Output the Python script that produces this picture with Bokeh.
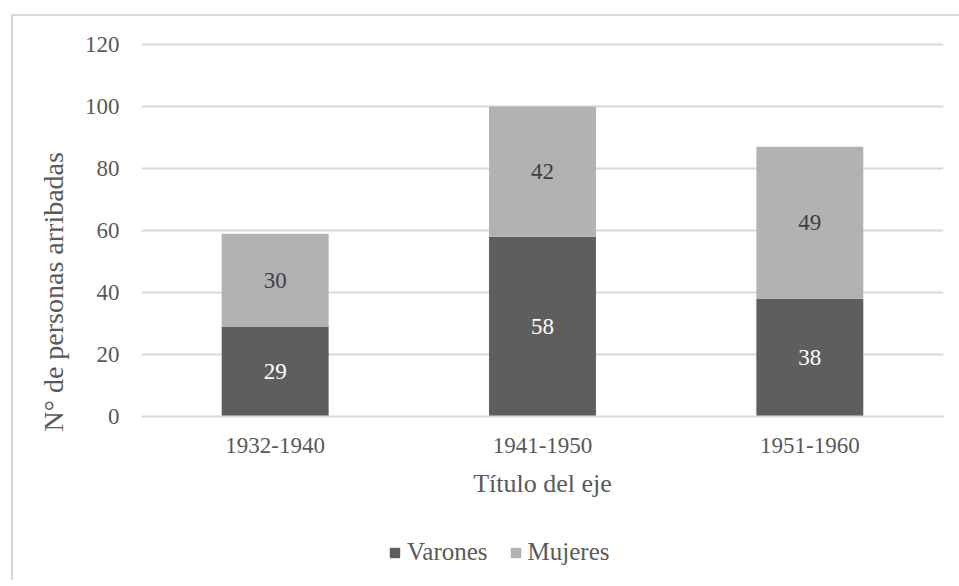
from bokeh.plotting import figure
from bokeh.models import ColumnDataSource, FactorRange, Range1d, Legend, LegendItem, LabelSet, FixedTicker, Title
from bokeh.layouts import column
from bokeh.embed import file_html
from bokeh.resources import INLINE

categories = ["1932-1940", "1941-1950", "1951-1960"]
varones = [29, 58, 38]
mujeres = [30, 42, 49]
series_names = ["Varones", "Mujeres"]
y_ticks = [0, 20, 40, 60, 80, 100, 120]

FONT = "Liberation Serif"
DARK = "#5E5E5E"
LIGHT = "#B2B2B2"
TEXT = "#595959"
GRID = "#D9D9D9"
colors = [DARK, LIGHT]

src = ColumnDataSource(dict(
    cat=categories,
    Varones=varones,
    Mujeres=mujeres,
    v_mid=[v / 2 for v in varones],
    m_mid=[v + m / 2 for v, m in zip(varones, mujeres)],
    v_lab=[str(v) for v in varones],
    m_lab=[str(m) for m in mujeres],
))

p = figure(width=946, height=484, x_range=FactorRange(*categories, range_padding=0),
           y_range=Range1d(0, 121), output_backend="svg", toolbar_location=None,
           min_border_left=128, min_border_right=16, min_border_top=25, min_border_bottom=82)

rs = p.vbar_stack(series_names, x="cat", width=0.4, source=src,
                  color=colors, line_color=None)

p.add_layout(LabelSet(x="cat", y="v_mid", text="v_lab", source=src, text_align="center",
                      text_baseline="middle", text_color="white", text_font_size="23px",
                      text_font=FONT))
p.add_layout(LabelSet(x="cat", y="m_mid", text="m_lab", source=src, text_align="center",
                      text_baseline="middle", text_color="#404040", text_font_size="23px",
                      text_font=FONT))

p.outline_line_color = None
p.xgrid.grid_line_color = None
p.ygrid.grid_line_color = GRID
p.ygrid.grid_line_width = 2
p.yaxis.ticker = FixedTicker(ticks=y_ticks)

p.yaxis.axis_line_color = None
p.yaxis.major_tick_line_color = None
p.yaxis.minor_tick_line_color = None
p.yaxis.major_label_text_font = FONT
p.yaxis.major_label_text_font_size = "23px"
p.yaxis.major_label_text_color = TEXT
p.yaxis.major_label_standoff = 16

# y-axis title (placed as a side title so it can sit lower, as in the reference)
p.add_layout(Title(text="N° de personas arribadas", align="left", offset=-15, standoff=26,
                   text_font=FONT, text_font_size="28px", text_font_style="normal",
                   text_color=TEXT), "left")

p.xaxis.axis_line_color = GRID
p.xaxis.axis_line_width = 2
p.xaxis.major_tick_line_color = None
p.xaxis.minor_tick_line_color = None
p.xaxis.major_label_text_font = FONT
p.xaxis.major_label_text_font_size = "23px"
p.xaxis.major_label_text_color = TEXT
p.xaxis.major_label_standoff = 15
p.xaxis.axis_label = "Título del eje"
p.xaxis.axis_label_text_font = FONT
p.xaxis.axis_label_text_font_size = "26px"
p.xaxis.axis_label_text_font_style = "normal"
p.xaxis.axis_label_text_color = TEXT
p.xaxis.axis_label_standoff = 13

# legend strip below the chart
pl = figure(width=946, height=80, x_range=(0, 1), y_range=(0, 1), output_backend="svg",
            toolbar_location=None, x_axis_type=None, y_axis_type=None,
            min_border=0, outline_line_color=None)
pl.grid.visible = False
dummies = [pl.vbar(x=[-5], bottom=[-6], top=[-5], width=0.1, color=c, line_color=None)
           for c in colors]
legend = Legend(items=[LegendItem(label=n, renderers=[r]) for n, r in zip(series_names, dummies)],
                orientation="horizontal", location=(247, 14),
                label_text_font=FONT, label_text_font_size="25px", label_text_color=TEXT,
                glyph_width=13, glyph_height=13, label_standoff=6, spacing=21,
                border_line_color=None, background_fill_alpha=0, padding=0, margin=0)
pl.add_layout(legend, "center")

layout = column(p, pl, spacing=0,
                styles={"margin-left": "11px", "margin-top": "14px",
                        "border-left": "2px solid #D9D9D9", "border-top": "2px solid #D9D9D9"})

open("out.html", "w").write(file_html(layout, INLINE))
